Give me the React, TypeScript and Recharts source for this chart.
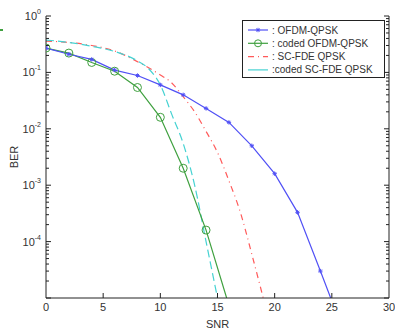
import React from "react";
import { LineChart, Line, XAxis, YAxis, Legend } from "recharts";

// SNR (dB) / BER pairs
const ofdmSnr = [0, 2, 4, 6, 8, 10, 12, 14, 16, 18, 20, 22, 24, 24.9];
const ofdmBer = [0.27, 0.21, 0.17, 0.11, 0.088, 0.06, 0.04, 0.023, 0.013, 0.005, 0.0016, 0.00033, 0.00003, 0.00001];

const codedOfdmSnr = [0, 2, 4, 6, 8, 10, 12, 14, 15.8];
const codedOfdmBer = [0.27, 0.22, 0.15, 0.105, 0.054, 0.016, 0.002, 0.00016, 0.00001];

const scfdeSnr = [0, 2, 4, 6, 8, 10, 11, 12, 13, 14, 15, 16, 17, 18, 19];
const scfdeBer = [0.36, 0.34, 0.3, 0.24, 0.155, 0.09, 0.065, 0.037, 0.02, 0.009, 0.0038, 0.0012, 0.00033, 0.00006, 0.00001];

const codedScfdeSnr = [0, 2, 4, 6, 8, 9, 10, 11, 12, 13, 14, 15];
const codedScfdeBer = [0.375, 0.34, 0.29, 0.235, 0.16, 0.115, 0.06, 0.018, 0.0055, 0.001, 0.0001, 0.00001];

const xTicks = [0, 5, 10, 15, 20, 25, 30];
const decadeTicks = [1e-5, 1e-4, 1e-3, 1e-2, 1e-1, 1];
const labelledExponents = [-4, -3, -2, -1, 0];
const minorMultipliers = [2, 3, 4, 5, 6, 7, 8, 9];

const yTicks: number[] = [];
decadeTicks.forEach((d, i) => {
  yTicks.push(d);
  if (i < decadeTicks.length - 1) minorMultipliers.forEach((m) => yTicks.push(d * m));
});

const toRows = (snr: number[], ber: number[]) => snr.map((s, i) => ({ snr: s, ber: ber[i] }));
const ofdmData = toRows(ofdmSnr, ofdmBer);
const codedOfdmData = toRows(codedOfdmSnr, codedOfdmBer);
const scfdeData = toRows(scfdeSnr, scfdeBer);
const codedScfdeData = toRows(codedScfdeSnr, codedScfdeBer);

const BLUE = "#5050f5";
const GREEN = "#3fa03f";
const RED = "#ff5a5a";
const CYAN = "#45d2d2";
const AXIS = "#222";
const FONT = "'Liberation Sans', Arial, sans-serif";

const legendItems = [
  { name: ": OFDM-QPSK", color: BLUE, marker: "star", dash: undefined },
  { name: ": coded OFDM-QPSK", color: GREEN, marker: "circle", dash: undefined },
  { name: ": SC-FDE QPSK", color: RED, marker: "none", dash: "6 4 1 4" },
  { name: ":coded SC-FDE QPSK", color: CYAN, marker: "none", dash: undefined },
];

const exponentOf = (v: number) => Math.round(Math.log10(v));
const isDecade = (v: number) => Math.abs(Math.log10(v) - exponentOf(v)) < 1e-6;

function Star({ cx, cy, color }: { cx: number; cy: number; color: string }) {
  const r = 2.2;
  return (
    <g stroke={color} strokeWidth={1}>
      <line x1={cx - r} y1={cy} x2={cx + r} y2={cy} />
      <line x1={cx} y1={cy - r} x2={cx} y2={cy + r} />
      <line x1={cx - r * 0.7} y1={cy - r * 0.7} x2={cx + r * 0.7} y2={cy + r * 0.7} />
      <line x1={cx - r * 0.7} y1={cy + r * 0.7} x2={cx + r * 0.7} y2={cy - r * 0.7} />
    </g>
  );
}

const starDot = (props: any) => {
  const { cx, cy, payload, index } = props;
  if (payload.ber <= 1e-5) return <g key={index} />;
  return <Star key={index} cx={cx} cy={cy} color={BLUE} />;
};

const circleDot = (props: any) => {
  const { cx, cy, payload, index } = props;
  if (payload.ber <= 1e-5) return <g key={index} />;
  return <circle key={index} cx={cx} cy={cy} r={4} fill="none" stroke={GREEN} strokeWidth={1} />;
};

const LeftTick = (props: any) => {
  const { x, y, payload } = props;
  const v = payload.value;
  const major = isDecade(v);
  const e = exponentOf(v);
  return (
    <g>
      <line x1={x} y1={y} x2={x + (major ? 5 : 3)} y2={y} stroke={AXIS} strokeWidth={1} />
      {major && labelledExponents.includes(e) && (
        <text x={x - 5} y={y + 4} textAnchor="end" fontSize={11} fill="#333" fontFamily={FONT}>
          <tspan>10</tspan>
          <tspan dy={-6} fontSize={7}>{e}</tspan>
        </text>
      )}
    </g>
  );
};

const RightTick = (props: any) => {
  const { x, y, payload } = props;
  const major = isDecade(payload.value);
  return <line x1={x} y1={y} x2={x - (major ? 5 : 3)} y2={y} stroke={AXIS} strokeWidth={1} />;
};

const BottomTick = (props: any) => {
  const { x, y, payload } = props;
  const edge = payload.value === 0 || payload.value === 30;
  return (
    <g>
      {!edge && <line x1={x} y1={y} x2={x} y2={y - 5} stroke={AXIS} strokeWidth={1} />}
      <text x={x} y={y + 13} textAnchor="middle" fontSize={11} fill="#333" fontFamily={FONT}>
        {payload.value}
      </text>
    </g>
  );
};

const TopTick = (props: any) => {
  const { x, y, payload } = props;
  if (payload.value === 0 || payload.value === 30) return <g />;
  return <line x1={x} y1={y} x2={x} y2={y + 5} stroke={AXIS} strokeWidth={1} />;
};

const LegendBox = () => (
  <svg width={143} height={58} style={{ display: "block" }}>
    <rect x={0.5} y={0.5} width={142} height={57} fill="#fff" stroke={AXIS} strokeWidth={1} />
    {legendItems.map((item, i) => {
      const cy = 10 + i * 13.3;
      return (
        <g key={item.name}>
          <line x1={6} y1={cy} x2={26} y2={cy} stroke={item.color} strokeWidth={1.2} strokeDasharray={item.dash} />
          {item.marker === "star" && <Star cx={16} cy={cy} color={item.color} />}
          {item.marker === "circle" && <circle cx={16} cy={cy} r={3.5} fill="none" stroke={item.color} />}
          <text x={30} y={cy + 3.5} fontSize={10} fill="#333" fontFamily={FONT}>
            {item.name}
          </text>
        </g>
      );
    })}
  </svg>
);

export default function App() {
  return (
    <div style={{ position: "relative", width: 395, height: 329, background: "#fff" }}>
      <style>{`body{margin:0}`}</style>
      <div style={{ position: "absolute", left: 0, top: 29, width: 3, height: 2, background: GREEN }} />
      <LineChart width={395} height={329} margin={{ top: 16, right: 0, bottom: 0, left: 0 }}>
        <XAxis
          xAxisId="bottom"
          type="number"
          dataKey="snr"
          domain={[0, 30]}
          ticks={xTicks}
          height={31}
          tickSize={0}
          tickMargin={0}
          tickLine={false}
          tick={<BottomTick />}
          stroke={AXIS}
          interval={0}
          allowDataOverflow
          label={{ value: "SNR", position: "insideBottom", offset: 1, fontSize: 11, fill: "#333", fontFamily: FONT }}
        />
        <XAxis
          xAxisId="top"
          orientation="top"
          type="number"
          dataKey="snr"
          domain={[0, 30]}
          ticks={xTicks}
          height={0}
          tickSize={0}
          tickMargin={0}
          tickLine={false}
          tick={<TopTick />}
          stroke={AXIS}
          interval={0}
          allowDataOverflow
        />
        <YAxis
          yAxisId="left"
          scale="log"
          domain={[1e-5, 1]}
          ticks={yTicks}
          width={46}
          tickSize={0}
          tickMargin={0}
          tickLine={false}
          tick={<LeftTick />}
          stroke={AXIS}
          interval={0}
          allowDataOverflow
          label={{ value: "BER", angle: -90, position: "center", dx: -9, fontSize: 11, fill: "#333", fontFamily: FONT }}
        />
        <YAxis
          yAxisId="right"
          orientation="right"
          scale="log"
          domain={[1e-5, 1]}
          ticks={yTicks}
          width={6}
          tickSize={0}
          tickMargin={0}
          tickLine={false}
          tick={<RightTick />}
          stroke={AXIS}
          interval={0}
          allowDataOverflow
        />
        <Legend
          layout="vertical"
          align="center"
          verticalAlign="middle"
          content={() => <LegendBox />}
          wrapperStyle={{ left: 242, top: 20, width: 143, height: 58 }}
        />
        <Line
          xAxisId="bottom"
          yAxisId="left"
          data={scfdeData}
          dataKey="ber"
          type="monotone"
          stroke={RED}
          strokeWidth={1.2}
          strokeDasharray="6 4 1 4"
          dot={false}
          isAnimationActive={false}
        />
        <Line
          xAxisId="bottom"
          yAxisId="left"
          data={codedScfdeData}
          dataKey="ber"
          type="monotone"
          stroke={CYAN}
          strokeWidth={1.2}
          strokeDasharray="8 4"
          dot={false}
          isAnimationActive={false}
        />
        <Line
          xAxisId="bottom"
          yAxisId="left"
          data={codedOfdmData}
          dataKey="ber"
          type="linear"
          stroke={GREEN}
          strokeWidth={1.2}
          dot={circleDot}
          isAnimationActive={false}
        />
        <Line
          xAxisId="bottom"
          yAxisId="left"
          data={ofdmData}
          dataKey="ber"
          type="linear"
          stroke={BLUE}
          strokeWidth={1.2}
          dot={starDot}
          isAnimationActive={false}
        />
      </LineChart>
    </div>
  );
}
